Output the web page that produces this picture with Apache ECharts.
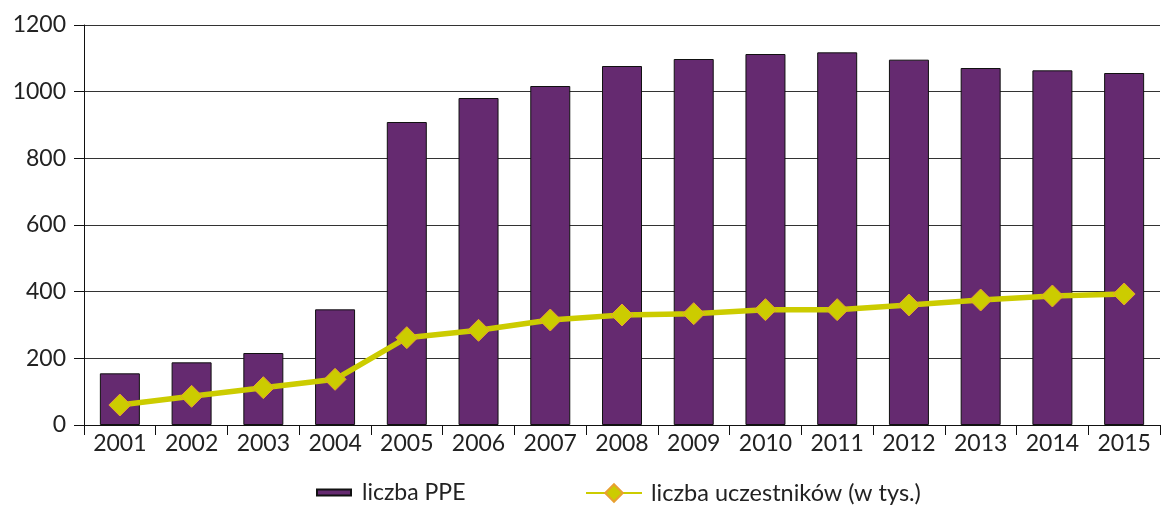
<!DOCTYPE html>
<html>
<head>
<meta charset="utf-8">
<script src="https://cdn.jsdelivr.net/npm/echarts@6/dist/echarts.min.js"></script>
<style>
  html, body { margin: 0; padding: 0; background: #fff; }
  #chart { width: 1162px; height: 505px; }
</style>
</head>
<body>
<div id="chart"></div>
<script>
  var years = ['2001', '2002', '2003', '2004', '2005', '2006', '2007', '2008', '2009', '2010', '2011', '2012', '2013', '2014', '2015']
  var ppe = [155, 188, 216, 347, 909, 981, 1017, 1077, 1098, 1113, 1118, 1096, 1071, 1064, 1056]
  var uczestnicy = [60, 86, 112, 137, 262, 284, 315, 330, 334, 346, 346, 360, 375, 387, 393]

  var font = 'Lato, "Open Sans", sans-serif'
  var chart = echarts.init(document.getElementById('chart'))
  chart.setOption({
    animation: false,
    textStyle: { fontFamily: font },
    grid: { left: 84, right: 2, top: 25, bottom: 80 },
    legend: [
      {
        left: 311,
        top: 476,
        icon: 'rect',
        itemWidth: 34,
        itemHeight: 6,
        textStyle: { fontSize: 23, color: '#222', fontFamily: font, padding: [0, 0, 0, 6] },
        data: ['liczba PPE']
      },
      {
        left: 580,
        top: 476,
        itemWidth: 56,
        itemHeight: 22,
        textStyle: { fontSize: 23.5, color: '#222', fontFamily: font, padding: [0, 0, 0, 4] },
        data: ['liczba uczestników (w tys.)']
      }
    ],
    xAxis: {
      type: 'category',
      data: years,
      boundaryGap: true,
      axisLine: { lineStyle: { color: '#111', width: 1 } },
      axisTick: { show: true, length: 10, lineStyle: { color: '#111' } },
      axisLabel: { fontSize: 23, color: '#222', margin: 7, fontFamily: font }
    },
    yAxis: {
      type: 'value',
      min: 0,
      max: 1200,
      interval: 200,
      axisLine: { show: true, lineStyle: { color: '#111', width: 1 } },
      axisTick: { show: true, length: 10, lineStyle: { color: '#111' } },
      axisLabel: {
        fontSize: 23, color: '#222', margin: 18, fontFamily: font,
        formatter: function (v) { return String(v) }
      },
      splitLine: { lineStyle: { color: '#333', width: 1.2 } }
    },
    series: [
      {
        name: 'liczba PPE',
        type: 'bar',
        data: ppe,
        barWidth: 40,
        itemStyle: { color: '#652a70', borderColor: '#111', borderWidth: 1 }
      },
      {
        name: 'liczba uczestników (w tys.)',
        type: 'line',
        data: uczestnicy,
        symbol: 'diamond',
        symbolSize: 22,
        lineStyle: { color: '#cccc00', width: 5.5 },
        itemStyle: { color: '#cccc00', borderColor: '#e8a030', borderWidth: 1 }
      }
    ]
  })
</script>
</body>
</html>
